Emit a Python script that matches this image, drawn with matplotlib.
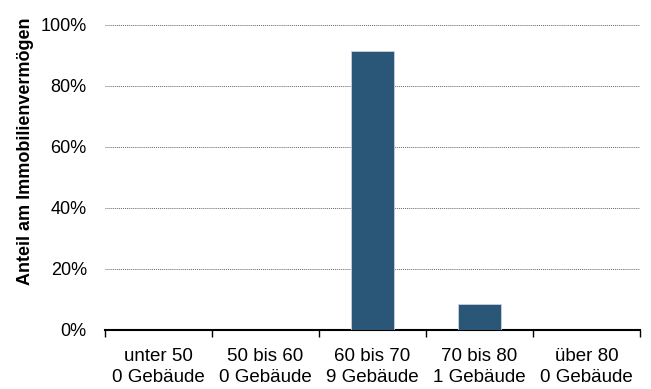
import matplotlib.pyplot as plt
import numpy as np
from matplotlib.ticker import FuncFormatter, FixedLocator

plt.rcParams['font.family'] = ['Liberation Sans', 'DejaVu Sans']

kategorien = ['unter 50', '50 bis 60', '60 bis 70', '70 bis 80', 'über 80']
gebaeude = [0, 0, 9, 1, 0]
anteil = [0, 0, 91.6, 8.4, 0]

labels = [f'{k}\n{g} Gebäude' for k, g in zip(kategorien, gebaeude)]
x = np.arange(len(kategorien))

fig = plt.figure(figsize=(6.51, 3.89), dpi=100)
ax = fig.add_axes([0.161, 0.152, 0.822, 0.784])

ax.bar(x, anteil, width=0.4, color='#2a5678', edgecolor='#c8d3dc', linewidth=0.6, zorder=3)

ax.set_xlim(-0.5, len(kategorien) - 0.5)
ax.set_ylim(0, 100)
ax.set_yticks([0, 20, 40, 60, 80, 100])
ax.yaxis.set_major_formatter(FuncFormatter(lambda v, p: f'{v:.0f}%'))
ax.yaxis.grid(True, linestyle=(0, (1, 1)), color='#666666', linewidth=0.7)
ax.set_axisbelow(True)

ax.set_xticks(x)
ax.set_xticklabels(labels, linespacing=1.3)
ax.xaxis.set_minor_locator(FixedLocator(np.arange(-0.5, len(kategorien), 1.0)))
ax.tick_params(axis='x', which='major', length=0, labelsize=13.5, pad=13)
ax.tick_params(axis='x', which='minor', length=5, width=1, direction='out')
ax.tick_params(axis='y', length=0, labelsize=13, pad=13)

for s in ['top', 'right', 'left']:
    ax.spines[s].set_visible(False)
ax.spines['bottom'].set_linewidth(1.5)

ax.set_ylabel('Anteil am Immobilienvermögen', fontsize=13, fontweight='bold')
ax.yaxis.set_label_coords(-0.132, 0.587)

fig.savefig('out.png', dpi=100)
